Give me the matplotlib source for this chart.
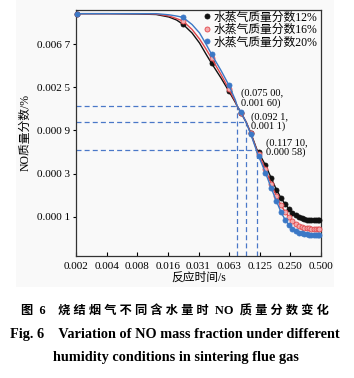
import numpy as np
import matplotlib
matplotlib.use("Agg")
import matplotlib.pyplot as plt
from matplotlib.lines import Line2D
from matplotlib.patches import Rectangle
from matplotlib.ticker import FixedLocator, NullLocator

# reaction time (s) and NO mass fraction (%)
time_s = [0.002, 0.004, 0.008, 0.012, 0.016, 0.019, 0.022, 0.027, 0.032, 0.037,
          0.042, 0.052, 0.062, 0.072, 0.075, 0.082, 0.0921, 0.102, 0.1171, 0.122,
          0.142, 0.162, 0.182, 0.202, 0.222, 0.242, 0.262, 0.282, 0.302, 0.322,
          0.342, 0.362, 0.382, 0.402, 0.422, 0.442, 0.462, 0.482, 0.500]
no_12 = [0.0136, 0.0136, 0.0135, 0.01334, 0.01259, 0.01175, 0.01063, 0.00870, 0.00689, 0.00534,
         0.00431, 0.00307, 0.00227, 0.00174, 0.00160, 0.001364, 0.00110, 0.000859, 0.000586, 0.000547,
         0.000409, 0.000303, 0.000232, 0.000191, 0.000166, 0.000148, 0.000136, 0.000129, 0.000123, 0.000119,
         0.0001166, 0.0001152, 0.0001148, 0.0001143, 0.0001140, 0.0001138, 0.0001137, 0.0001137, 0.0001137]
no_16 = [0.0136, 0.0136, 0.0136, 0.01349, 0.01288, 0.01215, 0.01147, 0.00943, 0.00757, 0.00600,
         0.00484, 0.00333, 0.00238, 0.00178, 0.00160, 0.001374, 0.00110, 0.000849, 0.000572, 0.000522,
         0.000373, 0.000264, 0.000199, 0.000162, 0.000138, 0.000123, 0.000112, 0.000104, 0.0000998, 0.0000975,
         0.0000956, 0.0000946, 0.0000942, 0.0000937, 0.0000935, 0.0000933, 0.0000932, 0.0000931, 0.0000931]
no_20 = [0.0136, 0.0136, 0.0136, 0.0136, 0.01325, 0.01288, 0.01250, 0.01058, 0.00870, 0.00674,
         0.00531, 0.00365, 0.00261, 0.00184, 0.00160, 0.001381, 0.00109, 0.000834, 0.000560, 0.000499,
         0.000344, 0.000240, 0.000178, 0.000138, 0.000115, 0.000102, 0.0000940, 0.0000885, 0.0000855, 0.0000840,
         0.0000830, 0.0000822, 0.0000816, 0.0000813, 0.0000810, 0.0000810, 0.0000809, 0.0000809, 0.0000809]
# times at which markers are drawn
mark_t = [0.002, 0.022, 0.042, 0.062, 0.082, 0.102, 0.122, 0.142, 0.162, 0.182, 0.202,
          0.222, 0.242, 0.262, 0.282, 0.302, 0.322, 0.342, 0.362, 0.382, 0.402, 0.422,
          0.442, 0.462, 0.482]
labels = ["水蒸气质量分数12%", "水蒸气质量分数16%", "水蒸气质量分数20%"]

# annotated points
ann_x = [0.075, 0.0921, 0.1171]
ann_y = [0.0016, 0.0011, 0.00058]
ann_text = ["(0.075 00,\n0.001 60)", "(0.092 1,\n0.001 1)", "(0.117 10,\n0.000 58)"]

xticks = [2.0 ** k for k in range(-9, 0)]
xtick_labels = ["0.002", "0.004", "0.008", "0.016", "0.031", "0.063", "0.125", "0.250", "0.500"]
yticks = [np.exp(k) for k in range(-5, -10, -1)]
ytick_labels = ["0.006 7", "0.002 5", "0.000 9", "0.000 3", "0.000 1"]

FONT = ["Liberation Serif", "Noto Sans CJK SC"]
plt.rcParams["font.family"] = FONT
plt.rcParams["axes.unicode_minus"] = False

fig = plt.figure(figsize=(3.54, 3.78), dpi=100)
fig.patches.append(Rectangle((0.045, 0.2407), 0.898, 0.7593, transform=fig.transFigure,
                             facecolor="#f9f9f9", edgecolor="none", zorder=-10))
ax = fig.add_axes([0.2147, 0.3228, 0.6921, 0.6507])
ax.set_facecolor("none")

ax.set_xscale("log", base=2)
ax.set_yscale("log", base=np.e)
ax.set_xlim(2.0 ** -9, 2.0 ** -1)
ax.set_ylim(4.98e-5, 0.0148)

t = np.array(time_s)
marks = [i for i, v in enumerate(t) if np.any(np.isclose(v, mark_t))]
styles = [("#111111", "#111111", "#111111"),
          ("#e2474b", "#f3a9ab", "#e2474b"),
          ("#3b78c6", "#3b78c6", "#3b78c6")]
for y, (lc, fc, ec) in zip([no_12, no_16, no_20], styles):
    ax.plot(t, y, color=lc, lw=1.0, marker="o", markevery=marks, ms=3.6,
            mfc=fc, mec=ec, mew=0.6, clip_on=False, zorder=3)

x0, y0 = ax.get_xlim()[0], ax.get_ylim()[0]
for xv, yv, txt in zip(ann_x, ann_y, ann_text):
    ax.plot([x0, xv], [yv, yv], color="#4a78c8", lw=0.9, dashes=(4, 2.5), zorder=2)
    ax.plot([xv, xv], [y0, yv], color="#4a78c8", lw=0.9, dashes=(4, 2.5), zorder=2)

ax.text(0.673, 0.68, ann_text[0], transform=ax.transAxes, fontsize=7.5,
        ha="left", va="top", linespacing=0.95)
ax.text(0.716, 0.585, ann_text[1], transform=ax.transAxes, fontsize=7.5,
        ha="left", va="top", linespacing=0.95)
ax.text(0.776, 0.478, ann_text[2], transform=ax.transAxes, fontsize=7.5,
        ha="left", va="top", linespacing=0.95)

ax.xaxis.set_major_locator(FixedLocator(xticks))
ax.xaxis.set_minor_locator(NullLocator())
ax.set_xticklabels(xtick_labels)
ax.yaxis.set_major_locator(FixedLocator(yticks))
ax.yaxis.set_minor_locator(NullLocator())
ax.set_yticklabels(ytick_labels)
ax.tick_params(axis="x", direction="in", length=3, width=0.8, labelsize=8, pad=4)
ax.tick_params(axis="y", direction="out", length=2, width=0.8, labelsize=8, pad=2)
for s in ax.spines.values():
    s.set_linewidth(0.9)
    s.set_color("#333333")

ax.set_xlabel("反应时间/s", fontsize=8.5, labelpad=1)
ax.set_ylabel("NO质量分数/%", fontsize=8.5, labelpad=4)

handles = [Line2D([], [], linestyle="none", marker="o", ms=3.6, mfc=fc, mec=ec, mew=0.6)
           for (lc, fc, ec) in styles]
ax.legend(handles, labels, loc="upper right", bbox_to_anchor=(0.99, 1.0), frameon=False,
          fontsize=8.5, handlelength=0.6, handletextpad=0.25, labelspacing=0.05,
          borderpad=0.05, borderaxespad=0.05)

fig.text(0.494, 0.175, "图  6    烧 结 烟 气 不 同 含 水 量 时  NO  质 量 分 数 变 化",
         ha="center", va="center", fontsize=8.8, fontweight="bold")
fig.text(0.494, 0.114, "Fig. 6    Variation of NO mass fraction under different",
         ha="center", va="center", fontsize=10.3, fontweight="bold")
fig.text(0.497, 0.053, "humidity conditions in sintering flue gas",
         ha="center", va="center", fontsize=10.3, fontweight="bold")

fig.savefig("out.png", dpi=100)
